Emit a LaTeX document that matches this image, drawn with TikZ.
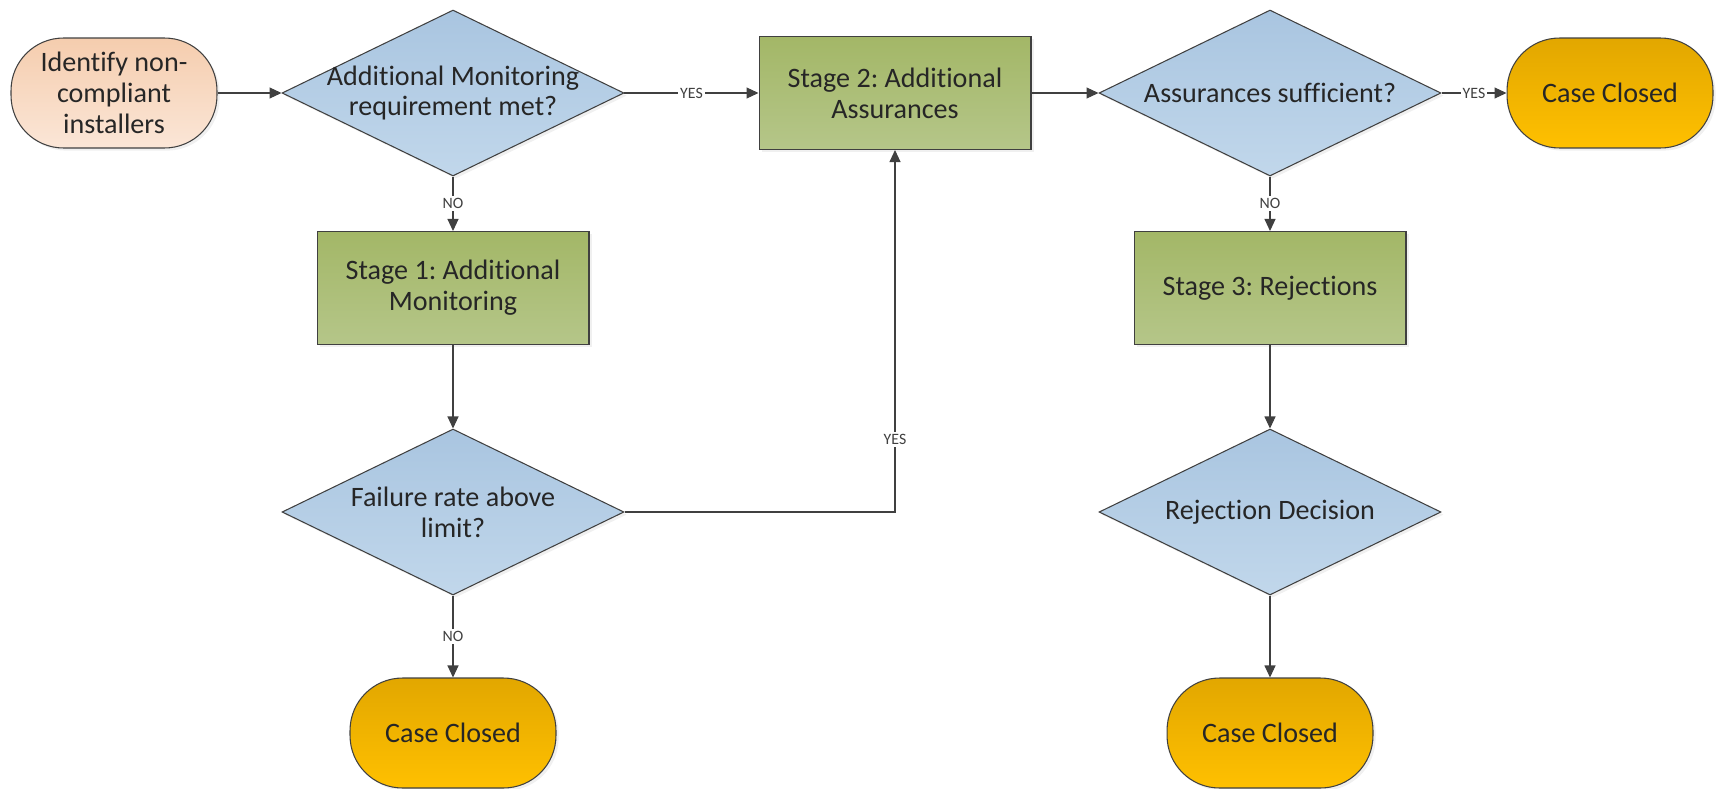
\documentclass[tikz,border=0pt]{standalone}
\usepackage{fontspec}
\setmainfont{Carlito}[Ligatures=NoCommon]
\usepackage{tikz}
\usetikzlibrary{shapes.geometric,arrows.meta,shadows}
\usepackage{xcolor}
\frenchspacing

\definecolor{lineg}{HTML}{404040}
\definecolor{txtg}{HTML}{262626}
\definecolor{peachtop}{HTML}{F5CDAE}
\definecolor{peachbot}{HTML}{FBE6D7}
\definecolor{bluetop}{HTML}{A9C5E0}
\definecolor{bluebot}{HTML}{C1D7EB}
\definecolor{greentop}{HTML}{A3B767}
\definecolor{greenbot}{HTML}{B5C689}
\definecolor{goldtop}{HTML}{E2A700}
\definecolor{goldbot}{HTML}{FFC000}

\begin{document}
\begin{tikzpicture}[x=0.02cm, y=-0.02cm,
      base/.style={draw=lineg, line width=0.6pt, align=center, text=txtg,
                   font=\fontsize{16}{17.5}\selectfont,
                   drop shadow={opacity=0.12, shadow xshift=1.5pt, shadow yshift=-1.5pt}},
      term/.style={base, rectangle, rounded corners=1.05cm,
                   minimum width=4.12cm, minimum height=2.2cm},
      start/.style={term, top color=peachtop, bottom color=peachbot},
      closed/.style={term, top color=goldtop, bottom color=goldbot},
      stagebox/.style={base, rectangle, minimum width=5.44cm, minimum height=2.26cm,
                       top color=greentop, bottom color=greenbot},
      decision/.style={base, diamond, minimum width=6.84cm, minimum height=3.32cm,
                       inner sep=0pt, top color=bluetop, bottom color=bluebot},
      dtext/.style={align=center, text=txtg, font=\fontsize{16}{17.5}\selectfont},
      elabel/.style={fill=white, inner sep=1.2pt, text=lineg,
                     font=\fontsize{9}{10}\selectfont},
      conn/.style={draw=lineg, line width=0.6pt, -{Triangle[length=2.4mm, width=2.2mm]}}]
    \useasboundingbox (0,0) rectangle (1716,788);
    % top row
    \node[start] (start) at (114,93) {Identify non-\\compliant\\installers};
    \node[decision, label={[dtext]center:{Additional Monitoring\\requirement met?}}] (d1) at (453,93) {};
    \node[stagebox] (st2) at (895,93) {Stage 2: Additional\\Assurances};
    \node[decision, label={[dtext]center:{Assurances sufficient?}}] (d2) at (1270,93) {};
    \node[closed] (cc1) at (1610,93) {Case Closed};
    % left column
    \node[stagebox] (st1) at (453,288) {Stage 1: Additional\\Monitoring};
    \node[decision, label={[dtext]center:{Failure rate above\\limit?}}] (d3) at (453,512) {};
    \node[closed] (cc2) at (453,733) {Case Closed};
    % right column
    \node[stagebox] (st3) at (1270,288) {Stage 3: Rejections};
    \node[decision, label={[dtext]center:{Rejection Decision}}] (d4) at (1270,512) {};
    \node[closed] (cc3) at (1270,733) {Case Closed};

    \draw[conn] (start) -- (d1);
    \draw[conn] (d1) -- node[elabel] {YES} (st2);
    \draw[conn] (st2) -- (d2);
    \draw[conn] (d2) -- node[elabel] {YES} (cc1);
    \draw[conn] (d1) -- node[elabel] {NO} (st1);
    \draw[conn] (st1) -- (d3);
    \draw[conn] (d3) -- node[elabel] {NO} (cc2);
    \draw[conn] (d3.east) -| node[elabel, pos=0.6] {YES} (st2.south);
    \draw[conn] (d2) -- node[elabel] {NO} (st3);
    \draw[conn] (st3) -- (d4);
    \draw[conn] (d4) -- (cc3);
  \end{tikzpicture}
\end{document}
